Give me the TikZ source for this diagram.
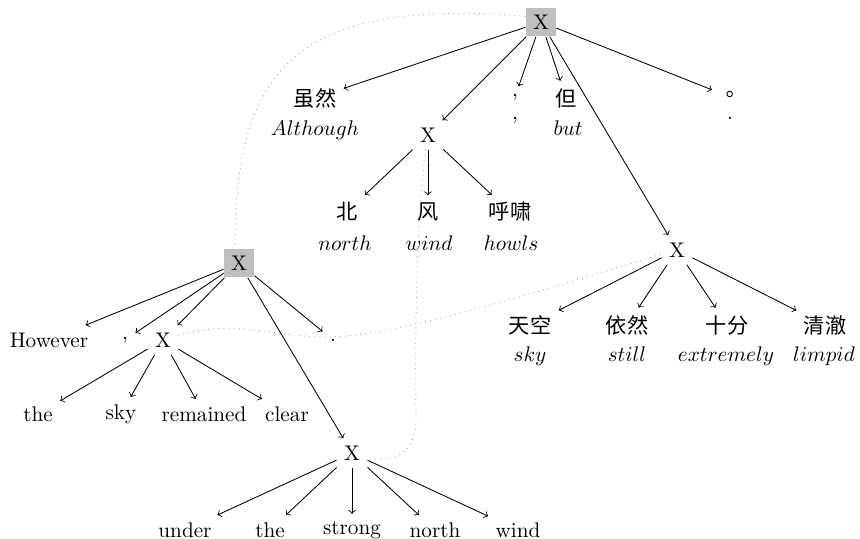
\documentclass[tikz,border=0pt]{standalone}
\usepackage{fontspec}
\newfontfamily\cjk{Noto Sans CJK SC}
\newfontfamily\cjktc{Noto Sans CJK TC}
\begin{document}
\begin{tikzpicture}[x=0.4717pt,y=-0.4717pt,
  hd/.style={fill=gray!50},
  zh/.style={font=\cjk},
  zp/.style={font=\cjktc},
  gl/.style={anchor=base,inner sep=0pt},
  arw/.style={->},
  link/.style={dotted,gray!75}]
\useasboundingbox (0,0) rectangle (860,539);
% ---- Chinese tree ----
\node[hd] (tX) at (541,22) {X};
\node[zh] (c1) at (315,98) {虽然};
\node[gl] (g1) at (315,136) {$Although$};
\node (mX) at (428,135) {X};
\node (c2) at (515,97) {,};
\node[gl] (g2) at (515,120) {,};
\node[zh] (c3) at (566,98) {但};
\node[gl] (g3) at (568,136) {$but$};
\node (rX) at (677,250) {X};
\node[zp] (c4) at (730,97) {。};
\node[gl] (g4) at (730,120) {.};
\node[zh] (b1) at (347,212) {北};
\node[gl] (n1) at (345,251) {$north$};
\node[zh] (b2) at (428,212) {风};
\node[gl] (n2) at (429,251) {$wind$};
\node[zh] (b3) at (510,212) {呼啸};
\node[gl] (n3) at (511,251) {$howls$};
\node[zh] (r1) at (530,325) {天空};
\node[gl] (s1) at (530,362) {$sky$};
\node[zh] (r2) at (627,325) {依然};
\node[gl] (s2) at (627,362) {$still$};
\node[zh] (r3) at (727,325) {十分};
\node[gl] (s3) at (726,362) {$extremely$};
\node[zh] (r4) at (825,325) {清澈};
\node[gl] (s4) at (824,362) {$limpid$};
\foreach \c in {c1,mX,c2,c3,rX,c4} \draw[arw] (tX) -- (\c);
\foreach \c in {b1,b2,b3} \draw[arw] (mX) -- (\c);
\foreach \c in {r1,r2,r3,r4} \draw[arw] (rX) -- (\c);
% ---- English tree ----
\node[hd] (lX) at (239,263) {X};
\node (h1) at (49,340) {However};
\node (h2) at (125,340) {,};
\node (sX) at (163,340) {X};
\node (h3) at (333,340) {.};
\node (bX) at (352,453) {X};
\node (e1) at (38,414) {the};
\node (e2) at (121,414) {sky};
\node (e3) at (204,414) {remained};
\node (e4) at (287,414) {clear};
\node (u1) at (185,530) {under};
\node (u2) at (270,530) {the};
\node (u3) at (352,530) {strong};
\node (u4) at (435,530) {north};
\node (u5) at (518,530) {wind};
\foreach \c in {h1,h2,sX,h3,bX} \draw[arw] (lX) -- (\c);
\foreach \c in {e1,e2,e3,e4} \draw[arw] (sX) -- (\c);
\foreach \c in {u1,u2,u3,u4,u5} \draw[arw] (bX) -- (\c);
% ---- alignment links ----
\draw[link] (tX.160) .. controls +(-237,-20) and +(0,-173) .. (lX.105);
\draw[link] (mX.-100) .. controls (416,230) and (415,330) .. (416,415)
  .. controls (417,455) and (395,462) .. (bX.-20);
\draw[link] (sX.15) .. controls (230,318) and (280,338) .. (330,337)
  .. controls (400,336) and (560,285) .. (rX.195);
\end{tikzpicture}
\end{document}
